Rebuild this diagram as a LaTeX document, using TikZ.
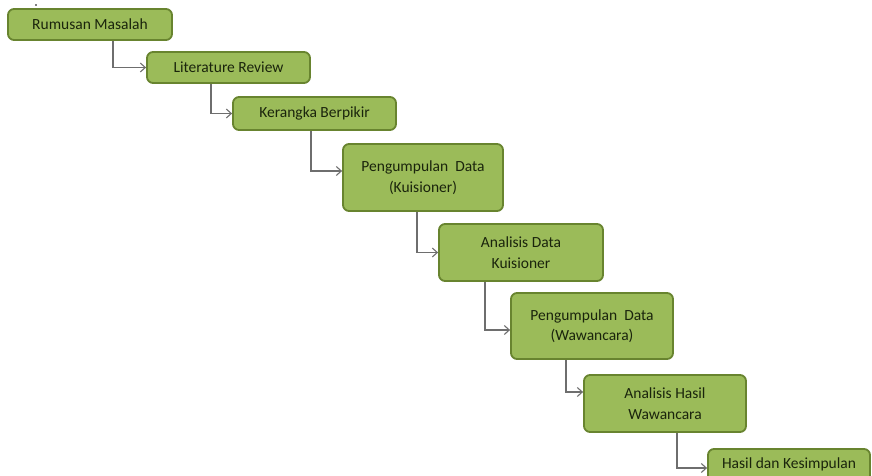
\documentclass[tikz,border=0pt]{standalone}
\usepackage{fontspec}
\setmainfont{Carlito}
\usetikzlibrary{arrows.meta}
\definecolor{boxfill}{HTML}{9BBB59}
\definecolor{boxedge}{HTML}{68842F}
\definecolor{boxtext}{HTML}{1A240C}
\definecolor{linkgray}{HTML}{6E6E6E}
\tikzset{
  boxfont/.style={font=\fontsize{15.5pt}{20.5pt}\selectfont, text=boxtext},
  stepbox/.style={draw=boxedge, fill=boxfill, line width=1.8pt, rounded corners=6pt,
    boxfont, align=center, inner sep=0pt, anchor=center},
  link/.style={draw=linkgray, line width=1.2pt,
    -{Straight Barb[length=5pt,width=9pt,line width=1.1pt]}}
}
\begin{document}
\begin{tikzpicture}[x=1pt,y=-1pt]
\path[use as bounding box, clip] (0,0) rectangle (872,476);
\fill[white] (0,0) rectangle (872,476);
\fill[black] (36,5) circle (0.8);

\node[stepbox, minimum width=164pt, minimum height=31pt] (b1) at (90,24.5) {Rumusan Masalah};
\node[stepbox, minimum width=163pt, minimum height=31pt] (b2) at (228.5,67.5) {Literature Review};
\node[stepbox, minimum width=163pt, minimum height=33pt] (b3) at (314.5,113.5) {Kerangka Berpikir};
\node[stepbox, minimum width=160pt, minimum height=67pt] (b4) at (423,177.5) {Pengumpulan~ Data\\(Kuisioner)};
\node[stepbox, minimum width=164pt, minimum height=57pt] (b5) at (521,252.5) {Analisis Data\\Kuisioner};
\node[stepbox, minimum width=162pt, minimum height=66pt] (b6) at (592,326) {Pengumpulan~ Data\\(Wawancara)};
\node[stepbox, minimum width=162pt, minimum height=57pt] (b7) at (665,403.5) {Analisis Hasil\\Wawancara};
\node[stepbox, minimum width=162pt, minimum height=34pt] (b8) at (789,466) {};
\node[boxfont, anchor=center] (t8) at (789,464) {Hasil dan Kesimpulan};

\draw[link] ([xshift=23pt]b1.south) |- (b2.west);
\draw[link] ([xshift=-17.5pt]b2.south) |- (b3.west);
\draw[link] ([xshift=-3.5pt]b3.south) |- ([yshift=6.5pt]b4.west);
\draw[link] ([xshift=-6pt]b4.south) |- (b5.west);
\draw[link] ([xshift=-36pt]b5.south) |- ([yshift=-4pt]b6.west);
\draw[link] ([xshift=-26pt]b6.south) |- ([yshift=11.5pt]b7.west);
\draw[link] ([xshift=12pt]b7.south) |- ([yshift=-2pt]b8.west);
\end{tikzpicture}
\end{document}
